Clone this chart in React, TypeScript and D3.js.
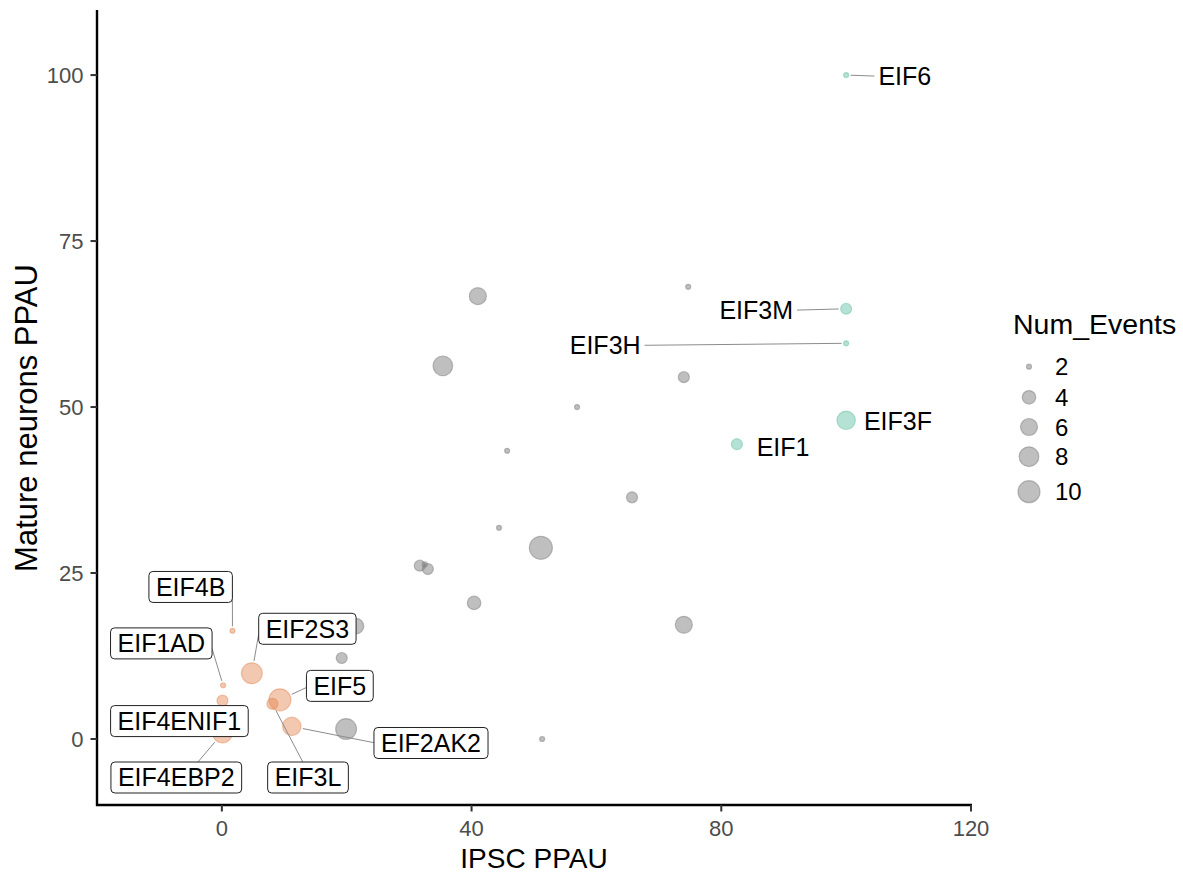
import React from 'react';
import * as d3 from 'd3';

const W = 1183;
const H = 877;
const FONT = '"Liberation Sans", Arial, Helvetica, sans-serif';

/* ── unlabelled genes (grey) ── */
const otherIpsc = [74.7, 41.0, 35.4, 74.0, 56.9, 45.7, 65.7, 44.4, 51.1, 31.7, 33.0, 32.5, 40.4, 74.0, 21.5, 19.2, 19.9, 51.3];
const otherMature = [68.1, 66.7, 56.2, 54.5, 50.0, 43.4, 36.4, 31.8, 28.8, 26.1, 25.6, 26.3, 20.5, 17.2, 17.0, 12.2, 1.5, 0.0];
const otherEvents = [2, 6, 8, 3, 2, 2, 3, 2, 11, 3, 3, 2, 4, 6, 5, 3, 9, 2];

/* ── high in neurons (teal, text labels) ── */
const upGenes = ['EIF6', 'EIF3M', 'EIF3H', 'EIF3F', 'EIF1'];
const upIpsc = [100, 100, 100, 100, 82.5];
const upMature = [100, 64.8, 59.6, 48.0, 44.4];
const upEvents = [2, 3, 2, 7, 3];
// repelled label centres, data units
const upLabelX = [109.4, 85.6, 61.4, 108.3, 89.9];
const upLabelY = [99.85, 64.6, 59.3, 47.9, 44.0];

/* ── low in both (orange, boxed labels) ── */
const downGenes = ['EIF4B', 'EIF1AD', 'EIF2S3', 'EIF4ENIF1', 'EIF5', 'EIF3L', 'EIF2AK2', 'EIF4EBP2'];
const downIpsc = [1.7, 0.2, 4.8, 0.1, 9.3, 8.1, 11.2, 0.1];
const downMature = [16.3, 8.1, 9.9, 5.8, 5.9, 5.3, 1.9, 0.9];
const downEvents = [2, 2, 9, 3, 10, 3, 7, 8];
const downLabelX = [-5.0, -9.7, 13.7, -6.8, 18.9, 13.8, 33.5, -7.3];
const downLabelY = [22.9, 14.4, 16.6, 2.7, 8.0, -5.8, -0.6, -5.8];

/* ── axes / legend ── */
const xTicks = [0, 40, 80, 120];
const yTicks = [0, 25, 50, 75, 100];
const legendBreaks = [2, 4, 6, 8, 10];
const legendKeyY = [366.7, 397.3, 427, 456.7, 491.7];

const GREY = '#7f7f7f';
const TEAL = '#5BBF9F';
const ORANGE = '#E3854F';

const margin = { left: 97, right: 971, top: 10, bottom: 805 };

const x = d3.scaleLinear().domain([-20, 120]).range([margin.left, margin.right]);
const y = d3.scaleLinear().domain([-9.94, 109.8]).range([margin.bottom, margin.top]);
const sizeT = d3.scaleLinear().domain([0, 1]).range([2.5, 11.5]);
const radius = (v: number) => sizeT(Math.sqrt(Math.max(0, v - 2) / 9));

let ctx: CanvasRenderingContext2D | null = null;
function textWidth(s: string, size: number) {
  if (!ctx) ctx = document.createElement('canvas').getContext('2d');
  ctx!.font = `${size}px "Liberation Sans"`;
  return ctx!.measureText(s).width;
}

// ggrepel-style connection point on a box: [x0, y0, x1, y1]
function connect(px: number, py: number, b: number[]) {
  let ox: number, oy: number;
  let hor = false, ver = false;
  if (px >= b[0] && px <= b[2]) ox = px;
  else { ox = px > b[2] ? b[2] : b[0]; hor = true; }
  if (py >= b[1] && py <= b[3]) oy = py;
  else { oy = py > b[3] ? b[3] : b[1]; ver = true; }
  const mx = (b[0] + b[2]) / 2, my = (b[1] + b[3]) / 2;
  const d = Math.hypot(px - ox, py - oy);
  if (ver && !hor) {
    const alt = Math.hypot(px - mx, py - oy);
    ox += (mx - ox) * d / alt;
  } else if (hor && !ver) {
    const alt = Math.hypot(px - ox, py - my);
    oy += (my - oy) * d / alt;
  } else if (hor && ver) {
    const a1 = Math.hypot(px - mx, py - oy);
    const a2 = Math.hypot(px - ox, py - my);
    if (a1 < a2) ox += (mx - ox) * d / a1;
    else oy += (my - oy) * d / a2;
  }
  return [ox, oy];
}

function segment(px: number, py: number, r: number, b: number[]) {
  if (px >= b[0] && px <= b[2] && py >= b[1] && py <= b[3]) return null;
  const [sx, sy] = connect(px, py, b);
  const len = Math.hypot(sx - px, sy - py);
  const cut = r + 2;
  if (len - cut < 12) return null;
  const ex = px + (sx - px) * cut / len;
  const ey = py + (sy - py) * cut / len;
  return { x1: sx, y1: sy, x2: ex, y2: ey };
}

function Dot({ cx, cy, r, color, op }: { cx: number; cy: number; r: number; color: string; op: number }) {
  return (
    <circle cx={cx} cy={cy} r={r} fill={color} fillOpacity={op}
      stroke={color} strokeOpacity={op} strokeWidth={1.2} />
  );
}

export default function App() {
  const LFS = 25;
  const cap = LFS * 0.716;
  const TFS = 22;
  const LGS = 24;

  const upLabels = upGenes.map((g, i) => {
    const px = x(upIpsc[i]), py = y(upMature[i]);
    const cx = x(upLabelX[i]), cy = y(upLabelY[i]);
    const w = textWidth(g, LFS);
    const box = [cx - w / 2 - 4, cy - cap / 2 - 5, cx + w / 2 + 4, cy + cap / 2 + 5];
    return { g, cx, cy, seg: segment(px, py, radius(upEvents[i]), box) };
  });

  const downLabels = downGenes.map((g, i) => {
    const px = x(downIpsc[i]), py = y(downMature[i]);
    const cx = x(downLabelX[i]), cy = y(downLabelY[i]);
    const w = textWidth(g, LFS) + 14;
    const h = 31;
    const box = [cx - w / 2, cy - h / 2, cx + w / 2, cy + h / 2];
    return { g, cx, cy, w, h, seg: segment(px, py, radius(downEvents[i]), box) };
  });

  return (
    <svg width={W} height={H} style={{ position: 'absolute', left: 0, top: 0, background: '#fff' }}
      fontFamily={FONT}>
      {/* points */}
      {otherIpsc.map((v, i) => (
        <Dot key={'o' + i} cx={x(v)} cy={y(otherMature[i])} r={radius(otherEvents[i])} color={GREY} op={0.5} />
      ))}
      {upIpsc.map((v, i) => (
        <Dot key={'u' + i} cx={x(v)} cy={y(upMature[i])} r={radius(upEvents[i])} color={TEAL} op={0.45} />
      ))}
      {downIpsc.map((v, i) => (
        <Dot key={'d' + i} cx={x(v)} cy={y(downMature[i])} r={radius(downEvents[i])} color={ORANGE} op={0.45} />
      ))}

      {/* repel segments */}
      {[...upLabels, ...downLabels].map(l => l.seg && (
        <line key={'s' + l.g} x1={l.seg.x1} y1={l.seg.y1} x2={l.seg.x2} y2={l.seg.y2}
          stroke="#8c8c8c" strokeWidth={1} />
      ))}

      {/* text labels */}
      {upLabels.map(l => (
        <text key={'t' + l.g} x={l.cx} y={l.cy + cap / 2} textAnchor="middle" fontSize={LFS} fill="#000">{l.g}</text>
      ))}
      {downLabels.map(l => (
        <g key={'b' + l.g}>
          <rect x={l.cx - l.w / 2} y={l.cy - l.h / 2} width={l.w} height={l.h} rx={4} ry={4}
            fill="#fff" stroke="#222" strokeWidth={1} />
          <text x={l.cx} y={l.cy + cap / 2} textAnchor="middle" fontSize={LFS} fill="#000">{l.g}</text>
        </g>
      ))}

      {/* axes */}
      <line x1={margin.left} x2={margin.left} y1={margin.top} y2={margin.bottom + 1} stroke="#000" strokeWidth={2.4} />
      <line x1={margin.left - 1} x2={margin.right + 1} y1={margin.bottom} y2={margin.bottom} stroke="#000" strokeWidth={2.4} />
      {yTicks.map(t => (
        <g key={'yt' + t}>
          <line x1={margin.left - 6.5} x2={margin.left} y1={y(t)} y2={y(t)} stroke="#333" strokeWidth={2} />
          <text x={margin.left - 13.5} y={y(t) + TFS * 0.358} textAnchor="end" fontSize={TFS} fill="#4d4d4d">{t}</text>
        </g>
      ))}
      {xTicks.map(t => (
        <g key={'xt' + t}>
          <line x1={x(t)} x2={x(t)} y1={margin.bottom} y2={margin.bottom + 6.5} stroke="#333" strokeWidth={2} />
          <text x={x(t)} y={836} textAnchor="middle" fontSize={TFS} fill="#4d4d4d">{t}</text>
        </g>
      ))}
      <text x={(margin.left + margin.right) / 2} y={868} textAnchor="middle" fontSize={28} fill="#000">IPSC PPAU</text>
      <text transform={`translate(37,418) rotate(-90)`} textAnchor="middle"
        fontSize={31} fill="#000">Mature neurons PPAU</text>

      {/* legend */}
      <text x={1013} y={334} fontSize={28.5} fill="#000">Num_Events</text>
      {legendBreaks.map((b, i) => (
        <g key={'lg' + b}>
          <Dot cx={1029} cy={legendKeyY[i]} r={radius(b)} color={GREY} op={0.5} />
          <text x={1055} y={legendKeyY[i] + LGS * 0.358} fontSize={LGS} fill="#000">{b}</text>
        </g>
      ))}
    </svg>
  );
}
